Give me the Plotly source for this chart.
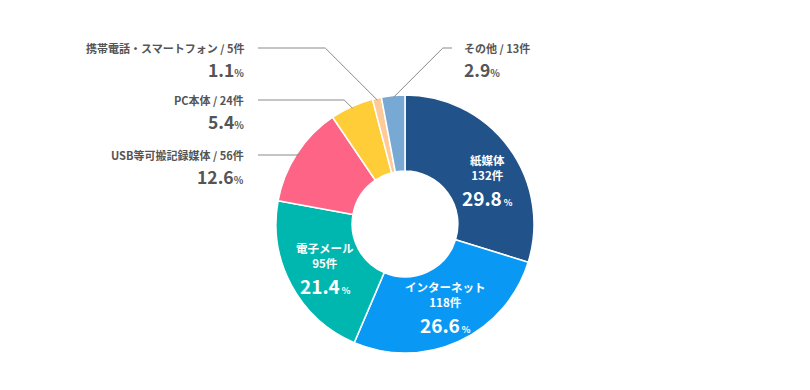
import math
import plotly.graph_objects as go

categories = ["紙媒体", "インターネット", "電子メール", "USB等可搬記録媒体", "PC本体", "携帯電話・スマートフォン", "その他"]
counts = [132, 118, 95, 56, 24, 5, 13]
percents = ["29.8", "26.6", "21.4", "12.6", "5.4", "1.1", "2.9"]
colors = ["#21528a", "#0a98f5", "#00b7b0", "#fe6485", "#ffcd38", "#fdca98", "#78a9d5"]

W, H = 810, 390
OFF = 8  # page body margin
CX, CY, R = 405 - OFF, 224 - OFF, 129

fig = go.Figure(go.Pie(
    labels=categories, values=counts, sort=False, direction="clockwise",
    rotation=0, hole=0.41, textinfo="none", hoverinfo="label+value+percent",
    marker=dict(colors=colors, line=dict(color="white", width=1.5)),
    domain=dict(x=[(CX - R) / W, (CX + R) / W], y=[(H - CY - R) / H, (H - CY + R) / H]),
    showlegend=False,
))

total = sum(counts)
mids = []
acc = 0
for c in counts:
    mids.append((acc + c / 2) / total * 2 * math.pi)
    acc += c


def px(x):
    return (x - OFF) / W


def py(y):
    return 1 - (y - OFF) / H


def point(i, r):
    a = mids[i]
    return CX + OFF + r * math.sin(a), CY + OFF - r * math.cos(a)


annotations = []
shapes = []
FONT = "Noto Sans CJK JP"
GRAY = "#555555"


def ann(x, y, text, size, color, xanchor="center"):
    annotations.append(dict(x=px(x), y=py(y), xref="paper", yref="paper", showarrow=False,
                            xanchor=xanchor, yanchor="middle", text=text,
                            font=dict(family=FONT, size=size, color=color)))


# inside labels
inside = {0: (487, 167), 1: (445, 294), 2: (325, 255)}
for i, (x, y) in inside.items():
    ann(x, y, f"<b>{categories[i]}<br>{counts[i]}件</b>", 11.5, "white")
    ann(x, y + 30, f"<b>{percents[i]}<span style='font-size:9px'> %</span></b>", 19, "white")

# outside labels: index -> (row1 y, side)
outside = {5: (48, "left"), 4: (100, "left"), 3: (155, "left"), 6: (48, "right")}
for i, (ly, side) in outside.items():
    ax, ay = point(i, 127)
    d = ay - ly
    if side == "left":
        tx, anchor = 246, "right"
        ex = ax - d
        shapes.append(dict(type="path", xref="paper", yref="paper",
                           path=f"M {px(258)} {py(ly)} L {px(ex)} {py(ly)} L {px(ax)} {py(ay)}",
                           line=dict(color="#8a8a8a", width=1)))
    else:
        tx, anchor = 462, "left"
        ex = ax + d
        shapes.append(dict(type="path", xref="paper", yref="paper",
                           path=f"M {px(ax)} {py(ay)} L {px(ex)} {py(ly)} L {px(452)} {py(ly)}",
                           line=dict(color="#8a8a8a", width=1)))
    ann(tx, ly, f"<b>{categories[i]} / {counts[i]}件</b>", 11, GRAY, anchor)
    ann(tx, ly + 21, f"<b>{percents[i]}<span style='font-size:10px'>%</span></b>", 17.5, GRAY, anchor)

fig.update_layout(width=W, height=H, margin=dict(l=0, r=0, t=0, b=0),
                  paper_bgcolor="white", plot_bgcolor="white",
                  annotations=annotations, shapes=shapes)
fig.write_html("out.html")
